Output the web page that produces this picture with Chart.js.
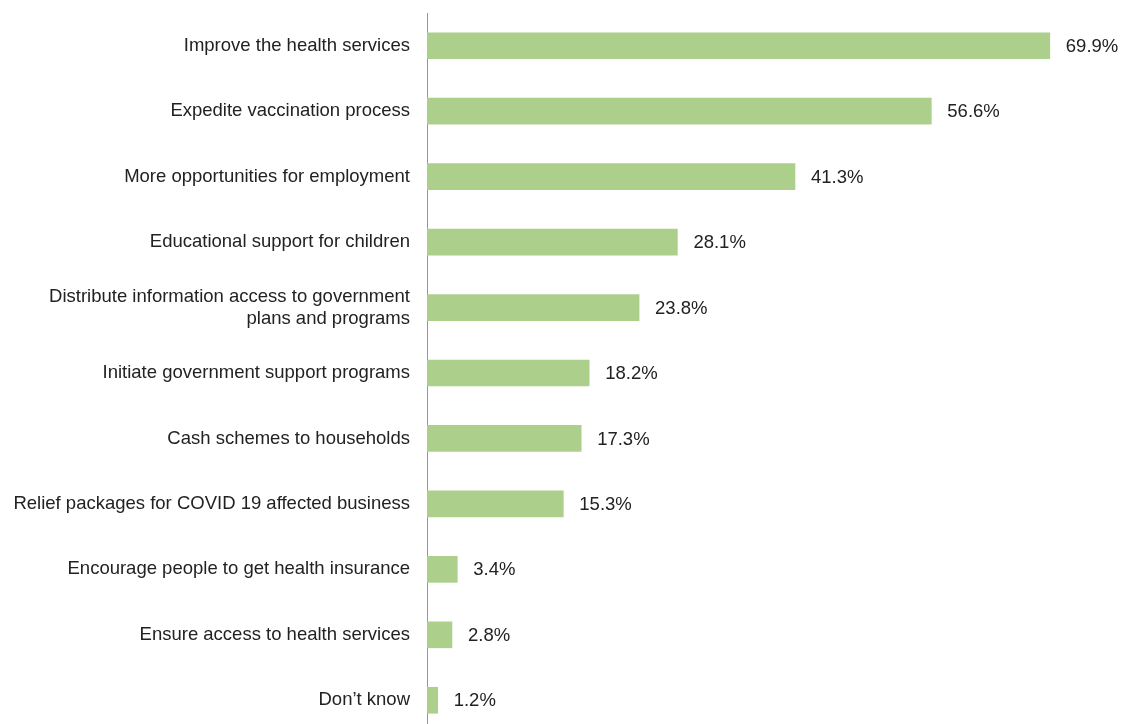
<!DOCTYPE html>
<html>
<head>
<meta charset="utf-8">
<script src="https://cdn.jsdelivr.net/npm/chart.js@4.4.1/dist/chart.umd.min.js"></script>
<style>
  html, body { margin: 0; padding: 0; background: #ffffff; overflow: hidden; }
  #wrap { position: relative; width: 1122px; height: 733px; }
</style>
</head>
<body>
<div id="wrap"><canvas id="chart"></canvas></div>
<script>
// Responses: what should be done (share of respondents, %)
const categories = [
  'Improve the health services',
  'Expedite vaccination process',
  'More opportunities for employment',
  'Educational support for children',
  ['Distribute information access to government', 'plans and programs'],
  'Initiate government support programs',
  'Cash schemes to households',
  'Relief packages for COVID 19 affected business',
  'Encourage people to get health insurance',
  'Ensure access to health services',
  'Don\u2019t know'
];
const shares = [69.9, 56.6, 41.3, 28.1, 23.8, 18.2, 17.3, 15.3, 3.4, 2.8, 1.2];

const FONT = '"Liberation Sans", Arial, sans-serif';
const SIZE = 18.5;

// Writes the percentage to the right of each bar
const valueLabels = {
  id: 'valueLabels',
  afterDatasetsDraw(chart) {
    const { ctx } = chart;
    const meta = chart.getDatasetMeta(0);
    ctx.save();
    ctx.font = SIZE + 'px ' + FONT;
    ctx.fillStyle = '#222222';
    ctx.textBaseline = 'middle';
    ctx.textAlign = 'left';
    meta.data.forEach((bar, i) => {
      ctx.fillText(shares[i].toFixed(1) + '%', bar.x + 16, bar.y + 1);
    });
    ctx.restore();
  }
};

new Chart(document.getElementById('chart'), {
  type: 'bar',
  data: {
    labels: categories,
    datasets: [{
      data: shares,
      backgroundColor: '#acd08c',
      borderWidth: 0,
      barThickness: 26
    }]
  },
  options: {
    indexAxis: 'y',
    responsive: true,
    maintainAspectRatio: false,
    animation: false,
    layout: { padding: { top: 13, right: 0, bottom: 0, left: 0 } },
    plugins: { legend: { display: false }, tooltip: { enabled: false } },
    scales: {
      x: {
        display: false,
        min: 0,
        max: 78
      },
      y: {
        offset: true,
        grid: { display: false, drawTicks: false },
        border: { display: true, color: '#b08898', width: 1, dash: [1, 1] },
        ticks: {
          color: '#222222',
          padding: 17,
          font: { family: FONT, size: SIZE, lineHeight: 1.2 },
          autoSkip: false
        },
        afterFit(scale) {
          scale.width = 427;
          scale.paddingTop = 0;
          scale.paddingBottom = 0;
        }
      }
    }
  },
  plugins: [valueLabels]
});
</script>
</body>
</html>
